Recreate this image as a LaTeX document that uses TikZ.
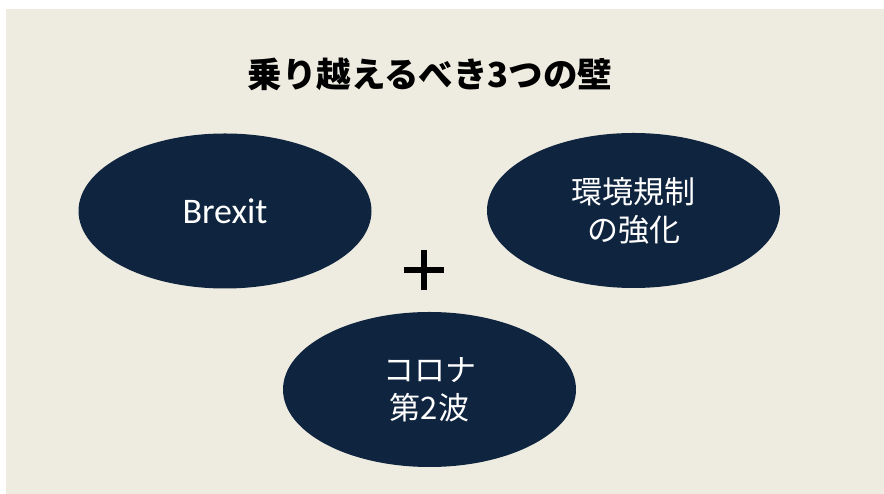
\documentclass[tikz,border=0pt]{standalone}
\usepackage{fontspec}
\newfontfamily\jp{Noto Sans CJK JP}
\newfontfamily\lat{Carlito}
\usetikzlibrary{shapes.geometric}
\definecolor{bgbeige}{HTML}{EEECE1}
\definecolor{navy}{HTML}{0F243E}
\tikzset{
  blob/.style={ellipse, fill=navy, minimum width=293pt, minimum height=155pt, inner sep=0pt,
    text=white, align=center},
  jptext/.style={font=\jp\fontsize{31}{38}\selectfont},
}
\begin{document}
\begin{tikzpicture}[x=1pt,y=1pt]
\useasboundingbox (0,0) rectangle (884,494);
\fill[bgbeige] (6,0) rectangle (884,485);
\node[font=\jp\bfseries\fontsize{34.5}{40}\selectfont, text=black] (title) at (430,420) {乗り越えるべき3つの壁};
\node[blob, font=\lat\fontsize{36}{40}\selectfont] (brexit) at (225,283) {Brexit};
\node[blob, jptext] (env) at (633.5,283.5) {環境規制\\の強化};
\node[blob, jptext] (corona) at (429.5,104.5) {コロナ\\第2波};
\coordinate (plus) at (424,224);
\draw[line width=6.5pt, black] ([xshift=-20pt]plus) -- ([xshift=20pt]plus);
\draw[line width=6.5pt, black] ([yshift=-20pt]plus) -- ([yshift=20pt]plus);
\end{tikzpicture}
\end{document}
